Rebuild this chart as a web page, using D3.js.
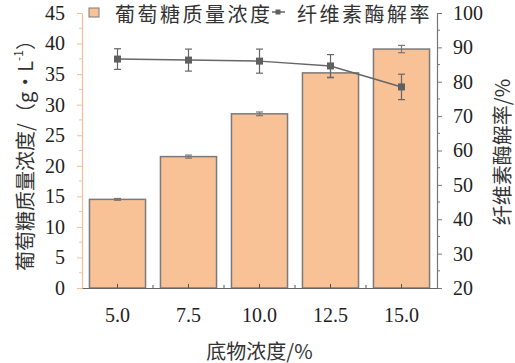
<!DOCTYPE html>
<html lang="zh">
<head>
<meta charset="utf-8">
<title>底物浓度</title>
<script src="https://d3js.org/d3.v7.min.js"></script>
<style>
  html, body { margin: 0; padding: 0; background: #fff; }
  svg { display: block; }
  .num { font-family: "Liberation Serif", "DejaVu Serif", serif; font-size: 20px; fill: #222; }
  .cjk { font-family: "Noto Sans CJK SC", sans-serif; font-size: 20px; fill: #333; }
</style>
</head>
<body>
<script>
// 数据
var categories = ["5.0", "7.5", "10.0", "12.5", "15.0"];
var glucose = [14.5, 21.5, 28.5, 35.2, 39.1];
var glucoseErr = [0.15, 0.25, 0.3, 0.8, 0.6];
var hydrolysis = [86.6, 86.3, 86.0, 84.6, 78.5];
var hydrolysisErr = [3.0, 3.2, 3.5, 3.3, 3.7];
var leftTicks = [0, 5, 10, 15, 20, 25, 30, 35, 40, 45];
var rightTicks = [20, 30, 40, 50, 60, 70, 80, 90, 100];

var width = 515, height = 363;
// 注意：top は window.top と衝突するので別名にする
var mLeft = 82, mRight = 437, mTop = 13, mBottom = 288;

var barFill = "#f8c196", barStroke = "#7a7a7a", lineColor = "#666", axisOrange = "#f2bf99";

var svg = d3.select("body").append("svg").attr("width", width).attr("height", height);

var x = d3.scaleBand().domain(categories).range([mLeft, mRight]).paddingInner(0.21).paddingOuter(0.105);
var yL = d3.scaleLinear().domain([0, 45]).range([mBottom, mTop]);
var yR = d3.scaleLinear().domain([20, 100]).range([mBottom, mTop]);
var cx = function(d, i){ return x(categories[i]) + x.bandwidth() / 2; };

// 柱
svg.append("g").selectAll("rect").data(glucose).enter().append("rect")
  .attr("x", function(d, i){ return x(categories[i]); })
  .attr("y", function(d){ return yL(d); })
  .attr("width", x.bandwidth())
  .attr("height", function(d){ return mBottom - yL(d); })
  .attr("fill", barFill).attr("stroke", barStroke).attr("stroke-width", 1.5);

// 误差线
function errBars(g, vals, errs, scale, color){
  var e = g.append("g").attr("stroke", color).attr("stroke-width", 1.2);
  vals.forEach(function(v, i){
    var px = cx(v, i), y1 = scale(v - errs[i]), y2 = scale(v + errs[i]);
    e.append("line").attr("x1", px).attr("x2", px).attr("y1", y1).attr("y2", y2);
    e.append("line").attr("x1", px - 3.5).attr("x2", px + 3.5).attr("y1", y1).attr("y2", y1);
    e.append("line").attr("x1", px - 3.5).attr("x2", px + 3.5).attr("y1", y2).attr("y2", y2);
  });
}
errBars(svg, glucose, glucoseErr, yL, "#777");

// 折线
var line = d3.line().x(function(d, i){ return cx(d, i); }).y(function(d){ return yR(d); });
svg.append("path").datum(hydrolysis).attr("d", line)
  .attr("fill", "none").attr("stroke", lineColor).attr("stroke-width", 1.5);
errBars(svg, hydrolysis, hydrolysisErr, yR, "#666");
svg.append("g").selectAll("rect").data(hydrolysis).enter().append("rect")
  .attr("x", function(d, i){ return cx(d, i) - 3.5; })
  .attr("y", function(d){ return yR(d) - 3.5; })
  .attr("width", 7).attr("height", 7).attr("fill", "#5f5f5f");

// 左轴
var gl = svg.append("g").attr("transform", "translate(" + mLeft + ",0)")
  .call(d3.axisLeft(yL).tickValues(leftTicks).tickSize(5).tickPadding(12).tickSizeOuter(0));
gl.select(".domain").attr("stroke", axisOrange).attr("stroke-width", 1.2);
gl.selectAll(".tick line").attr("stroke", axisOrange);
gl.selectAll(".tick text").attr("class", "num").attr("fill", null);
gl.selectAll(".minor").data(d3.range(2.5, 45, 5)).enter().append("line")
  .attr("x1", -3).attr("x2", 0).attr("y1", yL).attr("y2", yL).attr("stroke", axisOrange);

// 右轴
var gr = svg.append("g").attr("transform", "translate(" + mRight + ",0)")
  .call(d3.axisRight(yR).tickValues(rightTicks).tickSize(5).tickPadding(11).tickSizeOuter(0));
gr.select(".domain").attr("stroke", "#777").attr("stroke-width", 1.2);
gr.selectAll(".tick line").attr("stroke", "#777");
gr.selectAll(".tick text").attr("class", "num").attr("fill", null);
gr.selectAll(".minor").data(d3.range(25, 100, 10)).enter().append("line")
  .attr("x1", 0).attr("x2", 3).attr("y1", yR).attr("y2", yR).attr("stroke", "#777");

// 底轴
var gb = svg.append("g").attr("transform", "translate(0," + mBottom + ")")
  .call(d3.axisBottom(x).tickSize(-4).tickPadding(20).tickSizeOuter(0));
gb.select(".domain").attr("stroke", "#666").attr("stroke-width", 1.2);
gb.selectAll(".tick line").attr("stroke", "#555");
gb.selectAll(".tick text").attr("class", "num").attr("fill", null);
gb.selectAll(".sep").data(categories.slice(1)).enter().append("line")
  .attr("x1", function(d){ return x(d) - x.step() * x.paddingInner() / 2; })
  .attr("x2", function(d){ return x(d) - x.step() * x.paddingInner() / 2; })
  .attr("y1", 0).attr("y2", -3).attr("stroke", "#555");

// 标题
svg.append("text").attr("class", "cjk").attr("x", (mLeft + mRight) / 2).attr("y", 350)
  .attr("text-anchor", "middle").attr("dominant-baseline", "central").text("底物浓度/%");
var lt = svg.append("text").attr("class", "cjk")
  .attr("transform", "translate(24," + ((mTop + mBottom) / 2) + ") rotate(-90)")
  .attr("text-anchor", "middle").attr("dominant-baseline", "central");
lt.append("tspan").text("葡萄糖质量浓度/（g•L");
lt.append("tspan").attr("dy", -7).attr("font-size", 12).text("-1");
lt.append("tspan").attr("dy", 7).text("）");
svg.append("text").attr("class", "cjk")
  .attr("transform", "translate(501,152) rotate(-90)")
  .attr("text-anchor", "middle").attr("dominant-baseline", "central").text("纤维素酶解率/%");

// 图例
var lg = svg.append("g");
lg.append("rect").attr("x", 89).attr("y", 8).attr("width", 10).attr("height", 9)
  .attr("fill", barFill).attr("stroke", barStroke);
lg.append("text").attr("class", "cjk").attr("x", 115).attr("y", 13)
  .attr("font-size", 19).attr("dominant-baseline", "central").attr("letter-spacing", 2.5).text("葡萄糖质量浓度");
lg.append("line").attr("x1", 272).attr("x2", 285).attr("y1", 12).attr("y2", 12)
  .attr("stroke", lineColor).attr("stroke-width", 1.5);
lg.append("rect").attr("x", 275.5).attr("y", 9.5).attr("width", 5).attr("height", 5).attr("fill", "#5f5f5f");
lg.append("text").attr("class", "cjk").attr("x", 297).attr("y", 13)
  .attr("font-size", 19).attr("dominant-baseline", "central").attr("letter-spacing", 2.5).text("纤维素酶解率");
</script>
</body>
</html>
